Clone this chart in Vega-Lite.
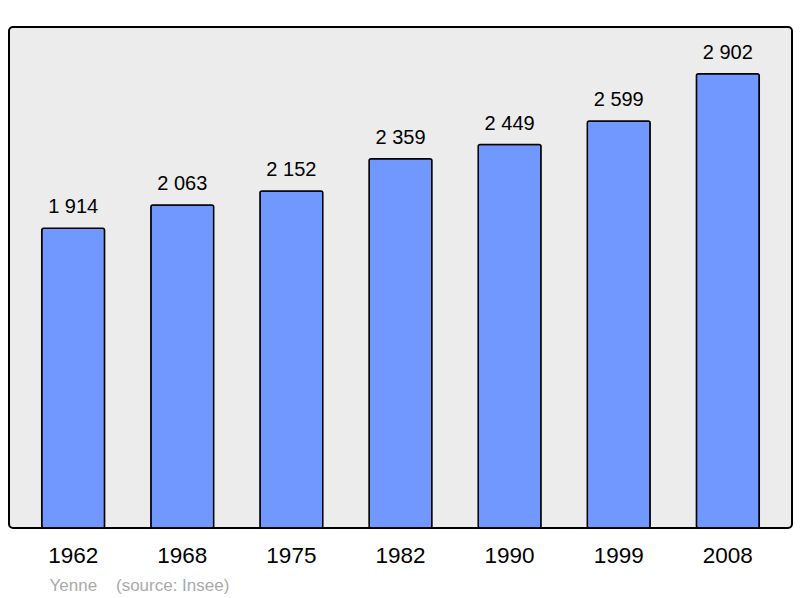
{
  "$schema": "https://vega.github.io/schema/vega-lite/v6.json",
  "width": 783,
  "height": 501,
  "autosize": "none",
  "padding": {"left": 9, "top": 27, "right": 8, "bottom": 70},
  "background": "white",
  "config": {
    "font": "Liberation Sans",
    "locale": {"number": {"decimal": ",", "thousands": " ", "grouping": [3], "currency": ["", " €"]}},
    "view": {"fill": "#ececec", "stroke": "#000000", "strokeWidth": 2, "cornerRadius": 4}
  },
  "data": {
    "values": [
      {"year": "1962", "pop": 1914},
      {"year": "1968", "pop": 2063},
      {"year": "1975", "pop": 2152},
      {"year": "1982", "pop": 2359},
      {"year": "1990", "pop": 2449},
      {"year": "1999", "pop": 2599},
      {"year": "2008", "pop": 2902}
    ]
  },
  "encoding": {
    "x": {
      "field": "year",
      "type": "nominal",
      "sort": null,
      "scale": {"paddingInner": 0.424, "paddingOuter": 0.3},
      "axis": {
        "domain": false,
        "ticks": false,
        "labelAngle": 0,
        "labelFontSize": 22.5,
        "labelColor": "#000000",
        "labelPadding": 16,
        "labelBaseline": "top",
        "title": "Yenne\u00a0\u00a0\u00a0\u00a0(source: Insee)",
        "titleFontSize": 17,
        "titleFontWeight": "normal",
        "titleColor": "#aaaaaa",
        "titleAnchor": "start",
        "titleAlign": "left",
        "titleBaseline": "alphabetic",
        "titleX": 40,
        "titleY": 62
      }
    },
    "y": {
      "field": "pop",
      "type": "quantitative",
      "scale": {"domain": [0, 3200], "nice": false},
      "axis": null
    }
  },
  "layer": [
    {
      "mark": {"type": "bar", "fill": "#7098ff", "stroke": "#000000", "strokeWidth": 1.5, "cornerRadius": 2}
    },
    {
      "mark": {"type": "text", "fontSize": 20, "color": "#000000", "baseline": "alphabetic", "dy": -15},
      "encoding": {"text": {"field": "pop", "type": "quantitative", "format": ",d"}}
    }
  ]
}
